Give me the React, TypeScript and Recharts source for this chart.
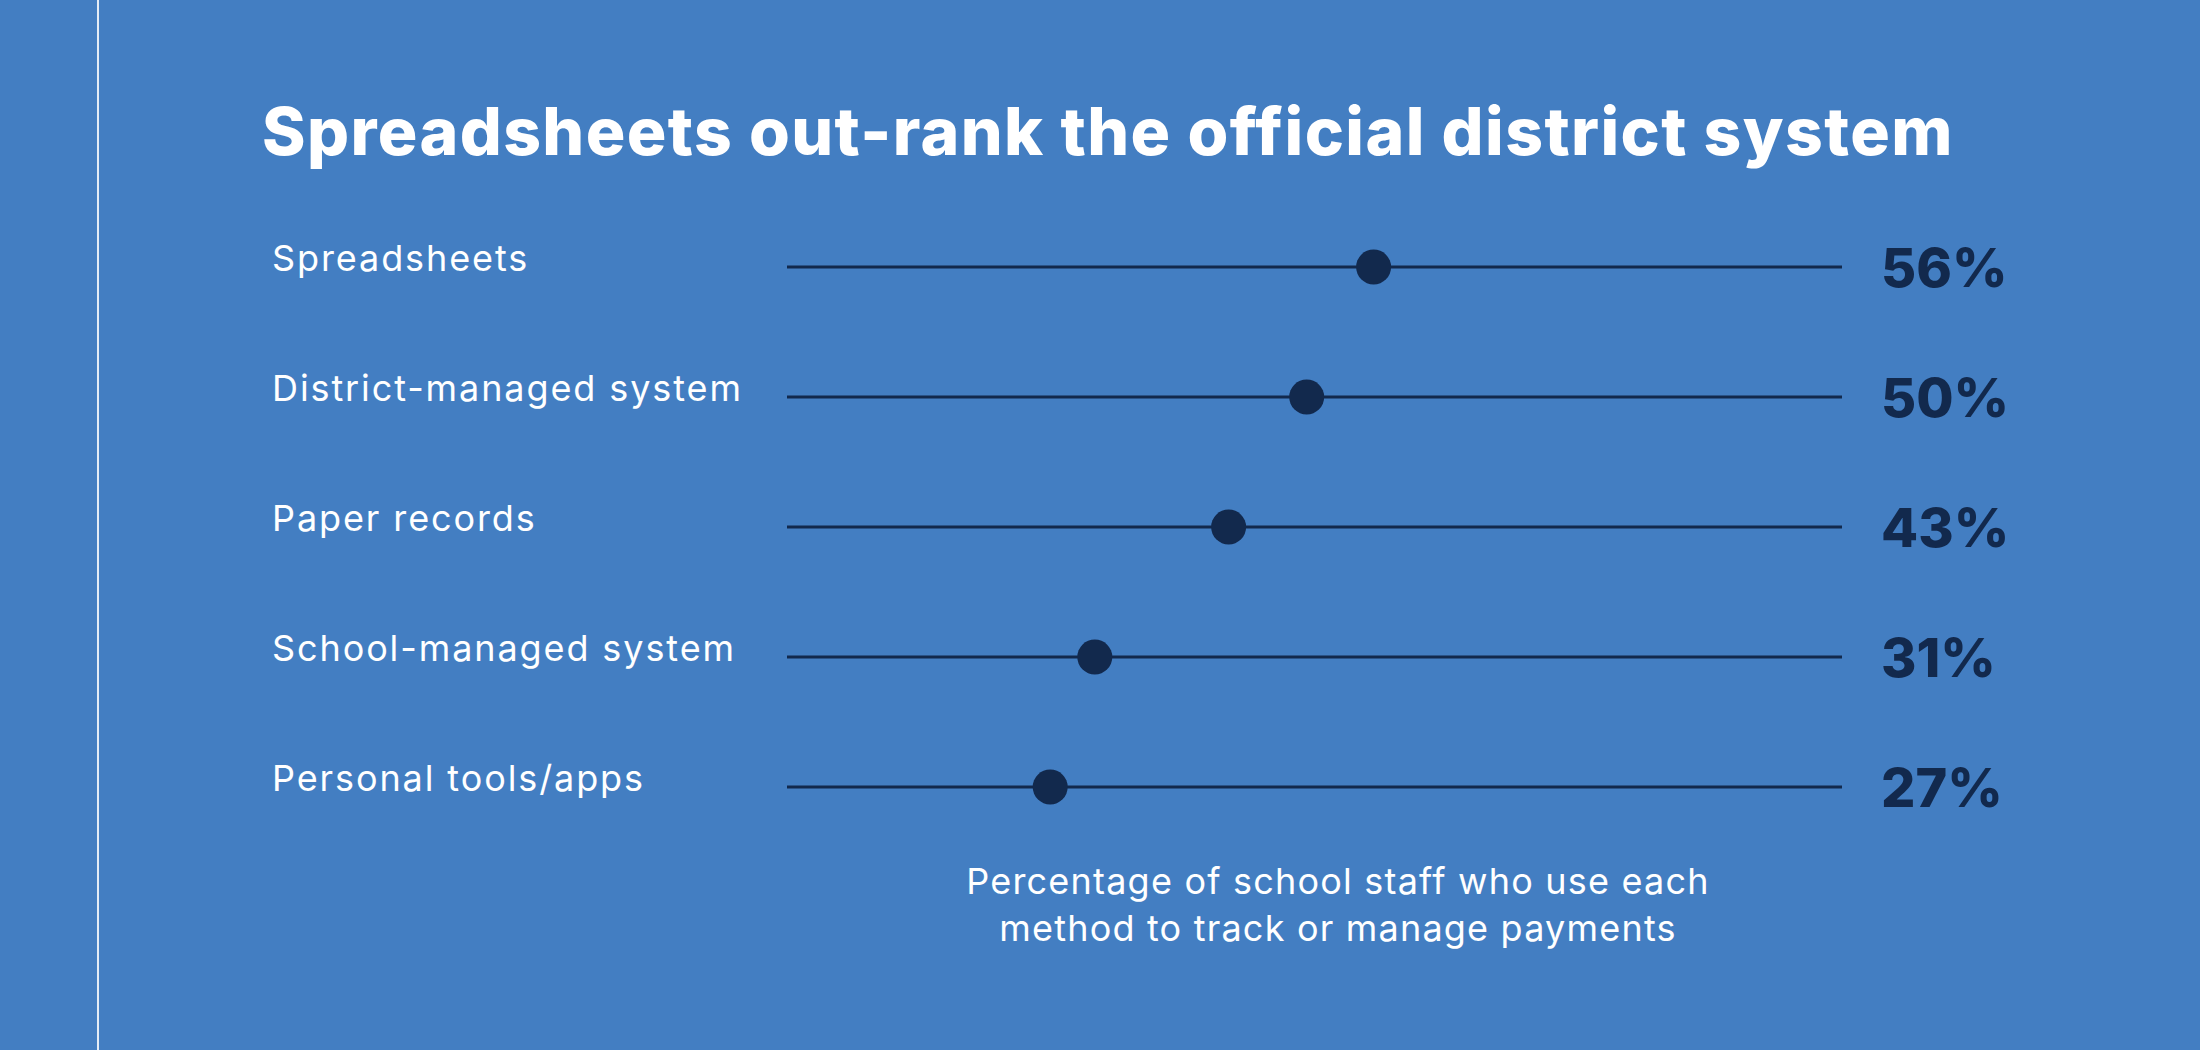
import React from 'react';
import {
  ComposedChart,
  Scatter,
  XAxis,
  YAxis,
  CartesianGrid,
} from 'recharts';

const methods = [
  'Spreadsheets',
  'District-managed system',
  'Paper records',
  'School-managed system',
  'Personal tools/apps',
];
const shares = [56, 50, 43, 31, 27];

const BG = '#437EC2';
const NAVY = '#12294D';
const FONT = 'Inter, "Open Sans", sans-serif';

const chartData = methods.map((name, i) => ({ name, value: shares[i] }));

const MethodTick = ({ x, y, payload }: any) => (
  <text
    x={x - 515}
    y={y - 9}
    fill="#ffffff"
    fontSize={36}
    letterSpacing={1.9}
    fontFamily={FONT}
    textAnchor="start"
    dominantBaseline="central"
  >
    {payload.value}
  </text>
);

const ShareTick = ({ x, y, index }: any) => (
  <text
    x={x + 39}
    y={y}
    fill={NAVY}
    fontSize={54}
    fontWeight={800}
    fontFamily={FONT}
    textAnchor="start"
    dominantBaseline="central"
  >
    {shares[index]}%
  </text>
);

const Dot = (props: any) => <circle cx={props.cx} cy={props.cy} r={17.5} fill={NAVY} />;

export default function App() {
  return (
    <div
      style={{
        position: 'absolute',
        left: 0,
        top: 0,
        width: 2200,
        height: 1050,
        background: BG,
        overflow: 'hidden',
        fontFamily: FONT,
      }}
    >
      <div style={{ position: 'absolute', left: 97, top: 0, width: 2, height: 1050, background: '#e4ecf6' }} />
      <div
        style={{
          position: 'absolute',
          left: 262,
          top: 91,
          color: '#ffffff',
          fontSize: 66,
          fontWeight: 800,
          letterSpacing: 1.4,
          whiteSpace: 'nowrap',
          lineHeight: '80px',
        }}
      >
        Spreadsheets out-rank the official district system
      </div>

      <div style={{ position: 'absolute', left: 0, top: 0 }}>
        <ComposedChart
          width={2200}
          height={1050}
          layout="vertical"
          data={chartData}
          margin={{ top: 267, right: 0, bottom: 263, left: 267 }}
        >
          <CartesianGrid horizontal vertical={false} stroke={NAVY} strokeWidth={3} />
          <XAxis type="number" dataKey="value" domain={[3.4, 98]} allowDataOverflow hide />
          <YAxis
            type="category"
            dataKey="name"
            width={520}
            axisLine={false}
            tickLine={false}
            tickSize={0}
            tickMargin={0}
            tick={<MethodTick />}
          />
          <YAxis
            yAxisId="right"
            orientation="right"
            type="category"
            dataKey="name"
            width={358}
            axisLine={false}
            tickLine={false}
            tickSize={0}
            tickMargin={0}
            tick={<ShareTick />}
          />
          <Scatter dataKey="value" shape={<Dot />} isAnimationActive={false} />
        </ComposedChart>
      </div>

      <div
        style={{
          position: 'absolute',
          left: 888,
          top: 858,
          width: 900,
          textAlign: 'center',
          color: '#ffffff',
          fontSize: 36,
          letterSpacing: 1.2,
          lineHeight: '47px',
        }}
      >
        Percentage of school staff who use each
        <br />
        method to track or manage payments
      </div>
    </div>
  );
}
